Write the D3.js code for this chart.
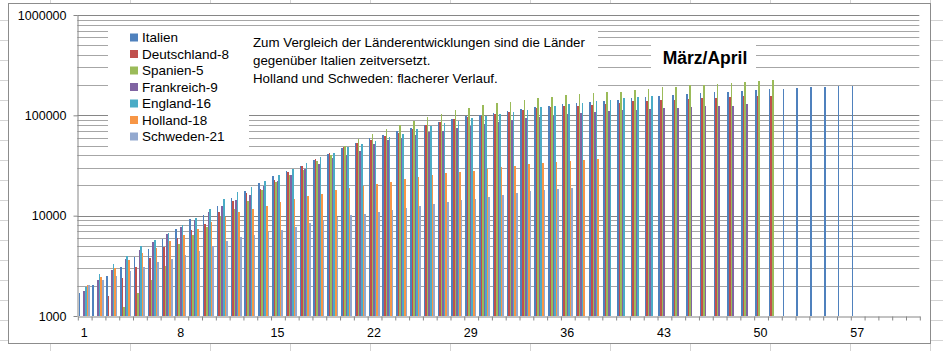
<!DOCTYPE html>
<html lang="de">
<head>
<meta charset="UTF-8">
<title>März/April</title>
<script src="https://d3js.org/d3.v7.min.js"></script>
<style>
  body { margin: 0; background: #fff; }
  text { font-family: "Liberation Sans", Arial, sans-serif; fill: #000; }
</style>
</head>
<body>
<svg id="chart" width="943" height="351"></svg>
<script>
// days since start (Italien: 1 = 1. März)
const days = d3.range(1, 62);
const seriesNames = ["Italien", "Deutschland-8", "Spanien-5", "Frankreich-9", "England-16", "Holland-18", "Schweden-21"];
const seriesColors = ["#4F81BD", "#C0504D", "#9BBB59", "#8064A2", "#4BACC6", "#F79646", "#93A9CF"];

const italien = [1694, 2036, 2502, 3089, 3858, 4636, 5883, 7375, 9172, 10149,
  12462, 15113, 17660, 21157, 24747, 27980, 31506, 35713, 41035, 47021,
  53578, 59138, 63927, 69176, 74386, 80589, 86498, 92472, 97689, 101739,
  105792, 110574, 115242, 119827, 124632, 128948, 132547, 135586, 139422, 143626,
  147577, 152271, 156363, 159516, 162488, 165155, 168941, 172434, 175925, 178972,
  181228, 183957, 187327, 189973, 192994, 195351, 197675];
const deutschland = [null, null, 1567, 2369, 3062, 3795, 4838, 6012, 7156, 8198,
  10999, 13957, 16662, 18610, 22672, 27436, 31554, 36508, 42288, 48582,
  52547, 57298, 61913, 67366, 73522, 79696, 85778, 91714, 95391, 99225,
  103228, 108202, 113525, 117658, 120479, 123016, 125098, 127584, 130450, 133830,
  137439, 139897, 141672, 143457, 145694, 148046, 150383, 152438, 154175, 155193,
  156337];
const spanien = [null, null, null, 1231, 1695, 2277, 3146, 5232, 6391, 7798,
  9942, 11748, 13910, 17963, 21571, 25374, 28768, 35136, 39885, 49515,
  57786, 65719, 73235, 80110, 87956, 95923, 104118, 112065, 119199, 126168,
  131646, 136675, 141942, 148220, 153222, 158273, 163027, 166831, 170099, 172541,
  177644, 184948, 190839, 191726, 198674, 200210, 204178, 208389, 213024, 219764,
  223759];
const frankreich = [1784, 2281, 2876, 3661, 4499, 5423, 6633, 7730, 9134, 10995,
  12612, 14459, 16018, 19856, 22304, 25233, 29155, 32964, 37575, 40174,
  44550, 52128, 56989, 59105, 64338, 68605, 70478, 74390, 78167, 82048,
  86334, 90676, 93790, 95403, 98076, 103573, 106206, 108847, 109252, 111821,
  112606, 114657, 117324, 119151, 120804, 122577, 124114, 124575, 128442];
const england = [1950, 2626, 3269, 3983, 5018, 5683, 6650, 8077, 9529, 11658,
  14543, 17089, 19522, 22141, 25150, 29474, 33718, 38168, 41903, 47806,
  51608, 55242, 60733, 65077, 73758, 78991, 84279, 88621, 93873, 98476,
  103093, 108692, 114217, 120067, 124743, 129044, 133495, 138078, 143464, 148377,
  152840, 157149];
const holland = [2051, 2460, 2994, 3631, 4204, 4749, 5560, 6412, 7431, 8603,
  9762, 10866, 11750, 12595, 13614, 14697, 15723, 16627, 17851, 18803,
  19580, 20549, 21762, 23097, 24413, 25587, 26551, 27419, 28153, 29214,
  30449, 31589, 32655, 33405, 34134, 34842, 35729, 36535];
const schweden = [2046, 2286, 2526, 2840, 3069, 3447, 3700, 4028, 4435, 4947,
  5568, 6131, 6443, 6830, 7206, 7693, 8419, 9141, 9685, 10151,
  10483, 10948, 11445, 11927, 12540, 13216, 13822, 14385, 14777, 15322,
  16004, 16755, 17567, 18177, 18640, 18926];

const seriesValues = [italien, deutschland, spanien, frankreich, england, holland, schweden];
const xTickLabels = [1, 8, 15, 22, 29, 36, 43, 50, 57];
const yTicks = [1000, 10000, 100000, 1000000];
const noteLines = ["Zum Vergleich der Länderentwicklungen sind die Länder",
  "gegenüber Italien zeitversetzt.",
  "Holland und Schweden: flacherer Verlauf."];
const title = "März/April";

const svg = d3.select("#chart");
const W = 943, H = 351;
const plot = {left: 77.3, right: 919.3, top: 15, bottom: 316};

// spreadsheet cells around the chart
const sheet = svg.append("g").attr("stroke", "#d4d4d4").attr("stroke-width", 1);
d3.range(50, W, 80).forEach(x => {
  sheet.append("line").attr("x1", x + 0.5).attr("x2", x + 0.5).attr("y1", 0).attr("y2", 3);
  sheet.append("line").attr("x1", x + 0.5).attr("x2", x + 0.5).attr("y1", 344).attr("y2", H);
});
d3.range(20, H, 20).forEach(y => {
  sheet.append("line").attr("x1", 0).attr("x2", 8).attr("y1", y + 0.5).attr("y2", y + 0.5);
  sheet.append("line").attr("x1", 931).attr("x2", W).attr("y1", y + 0.5).attr("y2", y + 0.5);
});

// chart area
svg.append("rect").attr("x", 8.5).attr("y", 3.5).attr("width", 922).attr("height", 340)
  .attr("fill", "#fff").attr("stroke", "#8c8c8c");

const x = d3.scaleBand().domain(days).range([plot.left, plot.right])
  .paddingInner(0.2).paddingOuter(0.1);
const xs = d3.scaleBand().domain(seriesNames).range([0, x.bandwidth()]);
const xEdge = d3.scaleLinear().domain([0, days.length]).range([plot.left, plot.right]);
const xCenter = d3.scaleBand().domain(days).range([plot.left, plot.right]);
const y = d3.scaleLog().domain([1000, 1000000]).range([plot.bottom, plot.top]);

// gridlines
const minor = [];
[1000, 10000, 100000].forEach(p => d3.range(2, 10).forEach(m => minor.push(p * m)));
svg.append("g").selectAll("line").data(minor).join("line")
  .attr("x1", plot.left).attr("x2", plot.right)
  .attr("y1", d => Math.round(y(d)) + 0.5).attr("y2", d => Math.round(y(d)) + 0.5)
  .attr("stroke", "#a6a6a6");
svg.append("g").selectAll("line").data(yTicks.slice(1)).join("line")
  .attr("x1", plot.left).attr("x2", plot.right)
  .attr("y1", d => Math.round(y(d)) + 0.5).attr("y2", d => Math.round(y(d)) + 0.5)
  .attr("stroke", "#868686");

// white boxes for legend, note and title
svg.append("rect").attr("x", 108).attr("y", 27).attr("width", 141).attr("height", 123).attr("fill", "#fff");
svg.append("rect").attr("x", 249).attr("y", 27).attr("width", 349).attr("height", 63).attr("fill", "#fff");
svg.append("rect").attr("x", 651).attr("y", 40).attr("width", 105).attr("height", 30).attr("fill", "#fff");

// bars
seriesNames.forEach((name, si) => {
  const pts = days.map((d, i) => ({day: d, v: seriesValues[si][i]}))
    .filter(p => p.v != null && p.v > 1000);
  svg.append("g").attr("fill", seriesColors[si])
    .selectAll("rect").data(pts).join("rect")
    .attr("x", p => x(p.day) + xs(name))
    .attr("width", xs.bandwidth())
    .attr("y", p => y(p.v))
    .attr("height", p => plot.bottom - y(p.v))
    .attr("shape-rendering", "crispEdges");
});

// axes
const yAxis = svg.append("g").attr("transform", `translate(${Math.round(plot.left) + 0.5},0)`)
  .call(d3.axisLeft(y).tickValues(yTicks).tickFormat(d3.format("d"))
    .tickSize(4).tickSizeOuter(0).tickPadding(7));
yAxis.selectAll("path, line").attr("stroke", "#868686");
yAxis.selectAll("text").attr("font-size", "12.5px").attr("font-family", "Liberation Sans, Arial, sans-serif");

const xAxis = svg.append("g").attr("transform", `translate(0.5,${plot.bottom + 0.5})`)
  .call(d3.axisBottom(xEdge).tickValues(d3.range(0, days.length + 1)).tickFormat("")
    .tickSize(4).tickSizeOuter(0));
xAxis.selectAll("path, line").attr("stroke", "#868686");

const xLab = svg.append("g").attr("transform", `translate(0,${plot.bottom})`)
  .call(d3.axisBottom(xCenter).tickValues(xTickLabels).tickSize(0).tickPadding(12));
xLab.select(".domain").remove();
xLab.selectAll("text").attr("font-size", "12.5px").attr("font-family", "Liberation Sans, Arial, sans-serif");

// legend
const legend = svg.append("g").attr("transform", "translate(130,37.5)");
seriesNames.forEach((name, i) => {
  const row = legend.append("g").attr("transform", `translate(0,${i * 16.5})`);
  row.append("rect").attr("x", 0).attr("y", -4).attr("width", 8).attr("height", 8)
    .attr("fill", seriesColors[i]);
  row.append("text").attr("x", 12).attr("dy", "0.36em").attr("font-size", "13.5px").text(name);
});

// note
svg.append("g").selectAll("text").data(noteLines).join("text")
  .attr("x", 253).attr("y", (d, i) => 42 + i * 18).attr("dy", "0.36em")
  .attr("font-size", "13.3px").text(d => d);

// title
svg.append("text").attr("x", 705).attr("y", 58).attr("dy", "0.36em")
  .attr("text-anchor", "middle").attr("font-size", "17.5px").attr("font-weight", "bold")
  .text(title);
</script>
</body>
</html>
